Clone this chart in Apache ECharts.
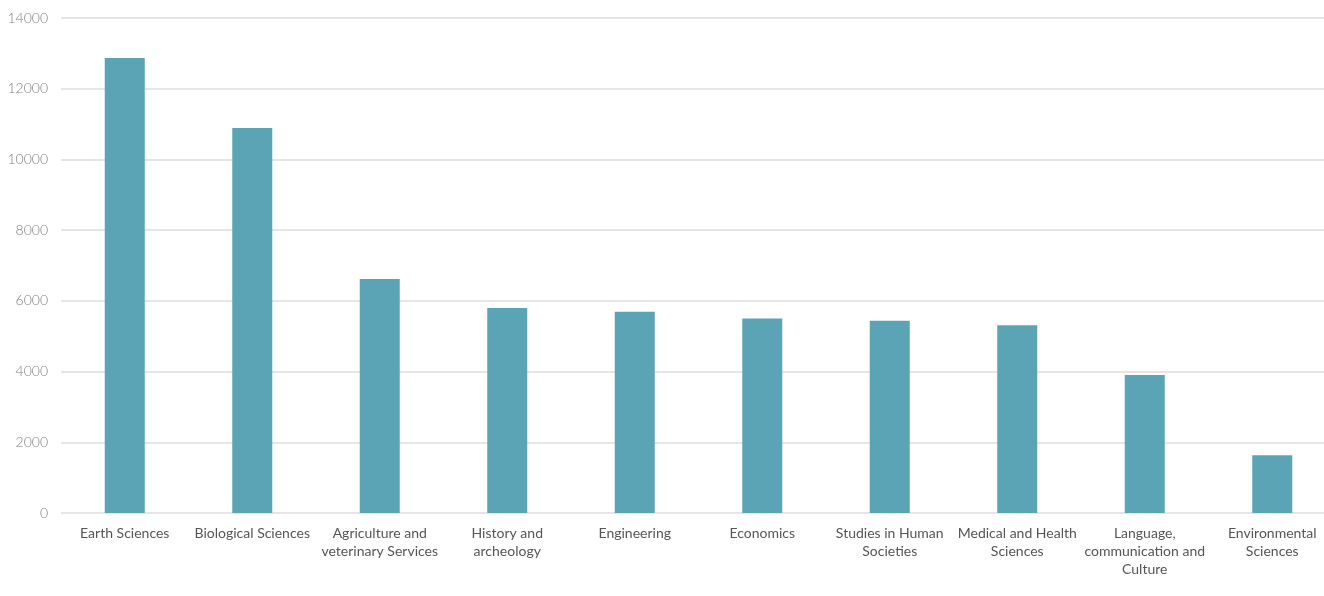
<!DOCTYPE html>
<html>
<head>
<meta charset="utf-8">
<script src="https://cdn.jsdelivr.net/npm/echarts@6/dist/echarts.min.js"></script>
<style>
html,body{margin:0;padding:0;background:#fff;}
#chart{width:1324px;height:596px;}
</style>
</head>
<body>
<div id="chart"></div>
<script>
const categories = [
  "Earth Sciences",
  "Biological Sciences",
  "Agriculture and\nveterinary Services",
  "History and\narcheology",
  "Engineering",
  "Economics",
  "Studies in Human\nSocieties",
  "Medical and Health\nSciences",
  "Language,\ncommunication and\nCulture",
  "Environmental\nSciences"
];
const values = [12870, 10890, 6620, 5800, 5690, 5500, 5440, 5310, 3900, 1630];
const yTicks = [0, 2000, 4000, 6000, 8000, 10000, 12000, 14000];

const chart = echarts.init(document.getElementById('chart'), null, {renderer: 'canvas'});
chart.setOption({
  animation: false,
  backgroundColor: '#ffffff',
  textStyle: {fontFamily: 'Lato, sans-serif'},
  grid: {left: 61, top: 18, right: -12, bottom: 83, containLabel: false, outerBoundsMode: 'none'},
  xAxis: {
    type: 'category',
    data: categories,
    axisLine: {show: false},
    axisTick: {show: false},
    axisLabel: {
      interval: 0,
      margin: 11,
      color: '#555555',
      fontSize: 14,
      lineHeight: 18,
      fontFamily: 'Lato, sans-serif'
    }
  },
  yAxis: {
    type: 'value',
    min: yTicks[0],
    max: yTicks[yTicks.length - 1],
    interval: 2000,
    axisLine: {show: false},
    axisTick: {show: false},
    axisLabel: {
      margin: 13,
      color: '#808080',
      fontSize: 14,
      fontWeight: 300,
      fontFamily: 'Lato, sans-serif',
      formatter: function (v) { return String(v); }
    },
    splitLine: {lineStyle: {color: '#dcdcdc', width: 1.5}}
  },
  series: [{
    type: 'bar',
    data: values,
    barWidth: 40,
    itemStyle: {color: '#5ba4b5'}
  }]
});
</script>
</body>
</html>
